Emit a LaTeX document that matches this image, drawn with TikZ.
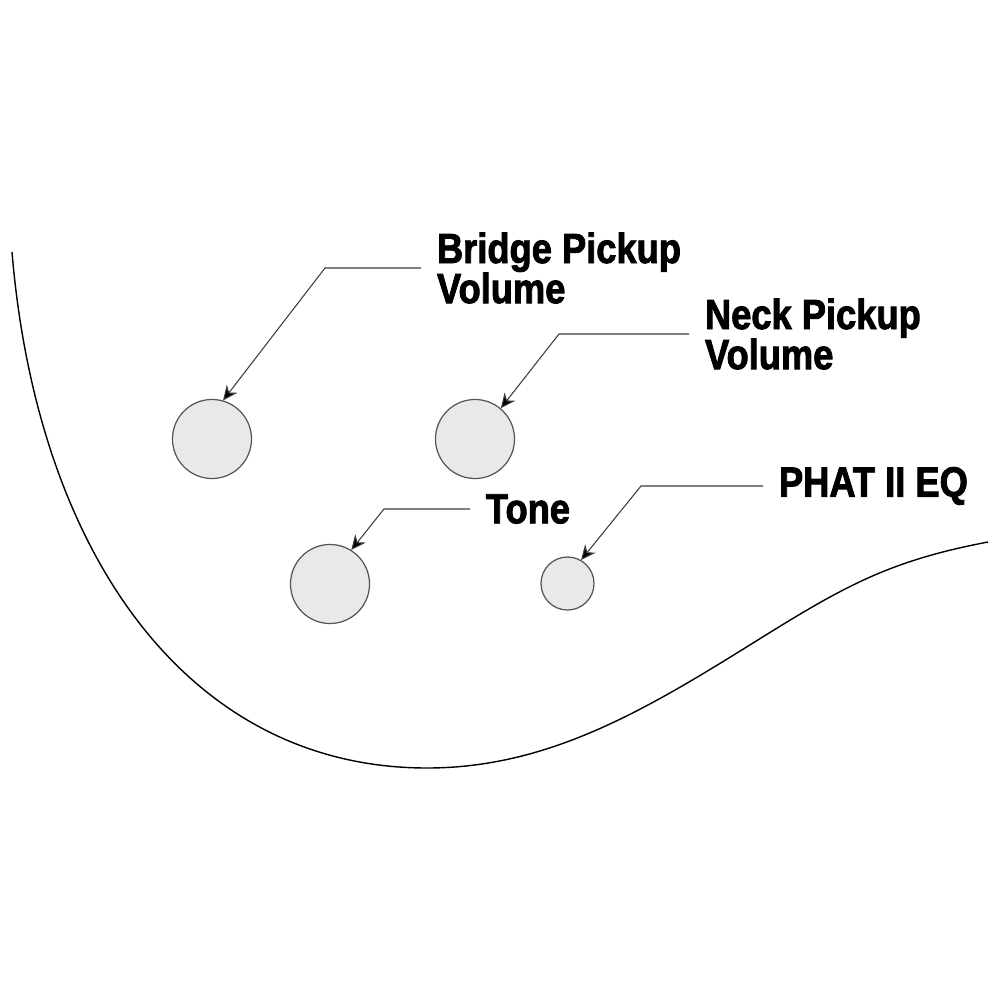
\documentclass[tikz,border=0pt]{standalone}
\usepackage{fontspec}
\newfontfamily\knobfont[FakeStretch=0.86,FakeBold=2]{Liberation Sans}
\usetikzlibrary{arrows.meta,positioning}
\definecolor{knobfill}{RGB}{232,233,232}
\definecolor{knobline}{RGB}{85,85,85}
\definecolor{leadline}{RGB}{60,60,60}
\tikzset{
knob/.style={circle,draw=knobline,fill=knobfill,line width=0.35pt,inner sep=0pt,minimum size=0.79cm},
lbl/.style={inner sep=0pt,outer xsep=0.16cm,align=left,anchor=west,font=\knobfont\bfseries\fontsize{12}{11.4}\selectfont},
lead/.style={draw=leadline,line width=0.3pt,-{Stealth[length=4.2pt,width=3.8pt,fill=black]}}
}
\begin{document}
\begin{tikzpicture}[x=0.01cm,y=-0.01cm]
\useasboundingbox (0,0) rectangle (1000,1000);
\draw[line width=0.4pt] (12,252) .. controls (37,552) and (187,768) .. (427,768)
  .. controls (547,768) and (643,711.6) .. (753,643)
  .. controls (843,586.8) and (888,561) .. (988,542);
\node[knob] (BV) at (212,439) {};
\node[knob] (NV) at (475,439) {};
\node[knob] (TO) at (330,584) {};
\node[knob,minimum size=0.53cm] (EQ) at (567.5,583.5) {};
\node[lbl] (bv) at (421,268) {Bridge Pickup\\Volume};
\node[lbl] (nv) at (689,334) {Neck Pickup\\Volume};
\node[lbl] (to) at (470,509) {Tone};
\node[lbl] (eq) at (763,486) {PHAT II EQ};
\coordinate (bvk) at (325,268);
\coordinate (nvk) at (559,334);
\coordinate (tok) at (384,509);
\coordinate (eqk) at (641,486);
\draw[lead] (bv.west) -- (bvk) -- (BV.74);
\draw[lead] (nv.west) -- (nvk) -- (NV.50);
\draw[lead] (to.west) -- (tok) -- (TO.58);
\draw[lead] (eq.west) -- (eqk) -- (EQ.60);
\end{tikzpicture}
\end{document}
